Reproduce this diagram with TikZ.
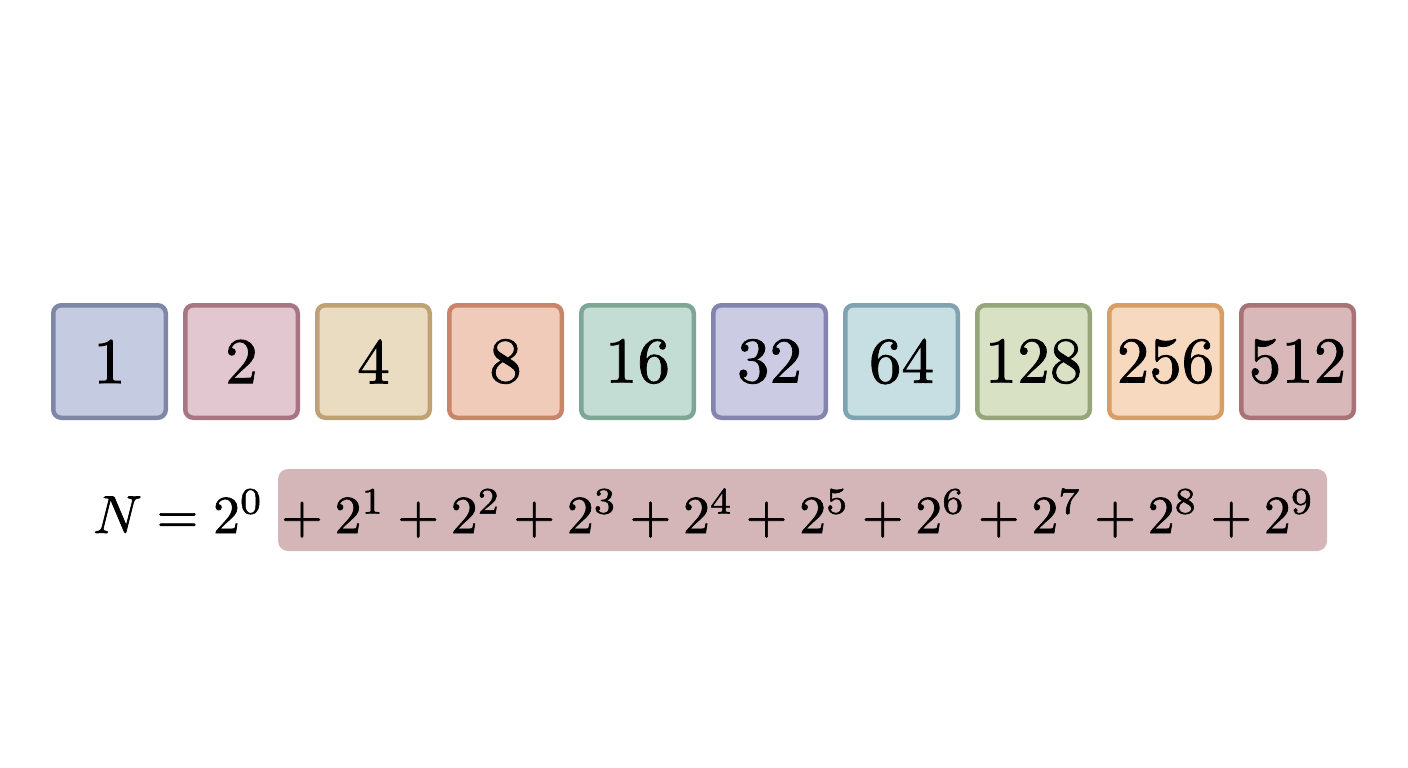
\documentclass[tikz,border=0pt]{standalone}
\usepackage{tikz}
\usepackage{graphicx}
\usepackage{unicode-math}
\setmainfont{Latin Modern Roman}[FakeBold=1.2]
\setmathfont{Latin Modern Math}[FakeBold=1.2]

% tile colours: fill and line
\definecolor{blueFill}{HTML}{C5CBE0}   \definecolor{blueLine}{HTML}{7F87A6}
\definecolor{roseFill}{HTML}{E3C7D0}   \definecolor{roseLine}{HTML}{A87585}
\definecolor{sandFill}{HTML}{EADCC0}   \definecolor{sandLine}{HTML}{BFA273}
\definecolor{peachFill}{HTML}{F1CBB9}  \definecolor{peachLine}{HTML}{C9846A}
\definecolor{mintFill}{HTML}{C4DDD4}   \definecolor{mintLine}{HTML}{7EA697}
\definecolor{lilacFill}{HTML}{CBCBE4}  \definecolor{lilacLine}{HTML}{8385AE}
\definecolor{skyFill}{HTML}{C7DFE3}    \definecolor{skyLine}{HTML}{7FA3B1}
\definecolor{oliveFill}{HTML}{D9E1C5}  \definecolor{oliveLine}{HTML}{97A57B}
\definecolor{apricotFill}{HTML}{F7D9BF}\definecolor{apricotLine}{HTML}{D99E65}
\definecolor{wineFill}{HTML}{D9B8BA}   \definecolor{wineLine}{HTML}{A87377}
\definecolor{sumFill}{HTML}{D5B6B8}

\tikzset{
  tile/.style={rectangle, rounded corners=8pt, line width=4.5pt,
    minimum size=112.5pt, inner sep=0pt}
}
\newcommand{\bignum}[1]{\scalebox{6.5}{#1}}
\newcommand{\bigeq}[1]{\scalebox{5.35}{#1}}

\begin{document}
\begin{tikzpicture}[x=1pt,y=-1pt]
			\useasboundingbox (0,0) rectangle (1408,768);

			% the row of powers of two
			\foreach \v/\c [count=\i from 0] in {1/blue,2/rose,4/sand,8/peach,16/mint,32/lilac,64/sky,128/olive,256/apricot,512/wine}
				\node [tile, fill=\c Fill, draw=\c Line] (t\i) at (109.5+132*\i, 361.5) {\bignum{\v}};

			% highlight behind the sum
			\node (hl) at (802.5,510) [rectangle, rounded corners=10pt, fill=sumFill,
				minimum width=1049pt, minimum height=82pt, inner sep=0pt] {};

			% the formula
			\node (lhs) at (93,533) [anchor=base west, inner sep=0pt] {\bigeq{$N = 2^0$}};
			\node (sum) at ([xshift=5pt]lhs.base east) [anchor=base west, inner sep=0pt]
				{\bigeq{${} + 2^1 + 2^2 + 2^3 + 2^4 + 2^5 + 2^6 + 2^7 + 2^8 + 2^9$}};

			\end{tikzpicture}
\end{document}
